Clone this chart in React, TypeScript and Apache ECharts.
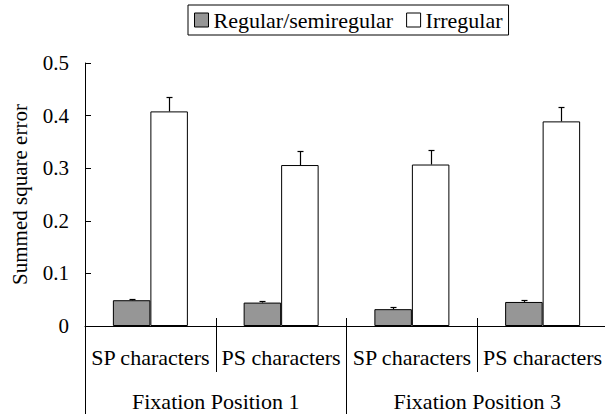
import React, { useEffect, useRef } from "react";
import * as echarts from "echarts";

const categories = ["SP characters", "PS characters", "SP characters", "PS characters"];
const groups = ["Fixation Position 1", "Fixation Position 3"];
const seriesNames = ["Regular/semiregular", "Irregular"];
const regular = [0.049, 0.0445, 0.032, 0.0457];
const regularErr = [0.003, 0.0035, 0.004, 0.0033];
const irregular = [0.408, 0.306, 0.307, 0.389];
const irregularErr = [0.027, 0.027, 0.027, 0.027];
const yMin = 0;
const yMax = 0.5;
const yStep = 0.1;

const FONT = "Liberation Serif";
const BAR_W = 37.5;
const GRAY = "#969696";

function errSeries(name: string, vals: number[], errs: number[], sign: number) {
  return {
    type: "custom",
    name: name + " err",
    z: 5,
    silent: true,
    data: vals.map((v, i) => [i, v, errs[i]]),
    encode: { x: 0, y: 1 },
    renderItem: (params: any, api: any) => {
      const i = api.value(0);
      const v = api.value(1);
      const e = api.value(2);
      const base = api.coord([i, v]);
      const top = api.coord([i, v + e]);
      const x = Math.round(base[0] + (sign * BAR_W) / 2) + 0.5;
      const yt = Math.round(top[1]) + 0.5;
      return {
        type: "group",
        children: [
          { type: "line", shape: { x1: x, y1: base[1], x2: x, y2: yt }, style: { stroke: "#000", lineWidth: 1.2 } },
          { type: "line", shape: { x1: x - 3, y1: yt, x2: x + 3, y2: yt }, style: { stroke: "#000", lineWidth: 1.2 } },
        ],
      };
    },
  };
}

export default function App() {
  const ref = useRef<HTMLDivElement>(null);
  useEffect(() => {
    const chart = echarts.init(ref.current!, null, { renderer: "svg" });
    chart.setOption({
      animation: false,
      backgroundColor: "#fff",
      textStyle: { fontFamily: FONT, color: "#000" },
      legend: {
        left: 188,
        top: 5,
        padding: [4, 6, 4, 6],
        borderColor: "#000",
        borderWidth: 1,
        itemGap: 13,
        itemWidth: 14,
        itemHeight: 14,
        icon: "rect",
        textStyle: { fontFamily: FONT, fontSize: 22, color: "#000" },
        data: [
          { name: seriesNames[0], itemStyle: { color: GRAY, borderColor: "#000", borderWidth: 1 } },
          { name: seriesNames[1], itemStyle: { color: "#fff", borderColor: "#000", borderWidth: 1 } },
        ],
      },
      grid: { left: 85, top: 63, width: 523, height: 263, containLabel: false, outerBoundsMode: "none" },
      xAxis: [
        {
          type: "category",
          data: categories,
          position: "bottom",
          axisLine: { show: true, lineStyle: { color: "#000", width: 1 } },
          axisTick: { show: true, interval: 0, alignWithLabel: false, length: 46, lineStyle: { color: "#000", width: 1 } },
          axisLabel: { interval: 0, margin: 20, fontSize: 22, fontFamily: FONT, color: "#000" },
          splitLine: { show: false },
        },
        {
          type: "category",
          data: groups,
          position: "bottom",
          offset: 0,
          axisLine: { show: false },
          axisTick: { show: true, interval: 0, alignWithLabel: false, length: 92, lineStyle: { color: "#000", width: 1 } },
          axisLabel: { interval: 0, margin: 64, fontSize: 22, fontFamily: FONT, color: "#000" },
          splitLine: { show: false },
        },
        {
          type: "category",
          data: categories,
          position: "bottom",
          offset: 0,
          axisLine: { show: false },
          axisTick: { show: true, inside: true, interval: 0, alignWithLabel: false, length: 8, lineStyle: { color: "#000", width: 1 } },
          axisLabel: { show: false },
          splitLine: { show: false },
        },
      ],
      yAxis: {
        type: "value",
        min: yMin,
        max: yMax,
        interval: yStep,
        name: "Summed square error",
        nameLocation: "middle",
        nameRotate: 90,
        nameGap: 55,
        nameTextStyle: { fontSize: 21, fontFamily: FONT, color: "#000" },
        axisLine: { show: true, lineStyle: { color: "#000", width: 1 } },
        axisTick: { show: true, inside: true, length: 6, lineStyle: { color: "#000", width: 1 } },
        axisLabel: { margin: 16, fontSize: 21, fontFamily: FONT, color: "#000" },
        splitLine: { show: false },
      },
      series: [
        {
          type: "bar",
          name: seriesNames[0],
          data: regular,
          barWidth: BAR_W,
          barGap: "0%",
          itemStyle: { color: GRAY, borderColor: "#000", borderWidth: 1 },
        },
        {
          type: "bar",
          name: seriesNames[1],
          data: irregular,
          barWidth: BAR_W,
          barGap: "0%",
          itemStyle: { color: "#fff", borderColor: "#000", borderWidth: 1 },
        },
        errSeries(seriesNames[0], regular, regularErr, -1),
        errSeries(seriesNames[1], irregular, irregularErr, 1),
      ],
    });
    return () => chart.dispose();
  }, []);
  return <div ref={ref} style={{ position: "fixed", left: 0, top: 0, width: 605, height: 414 }} />;
}
